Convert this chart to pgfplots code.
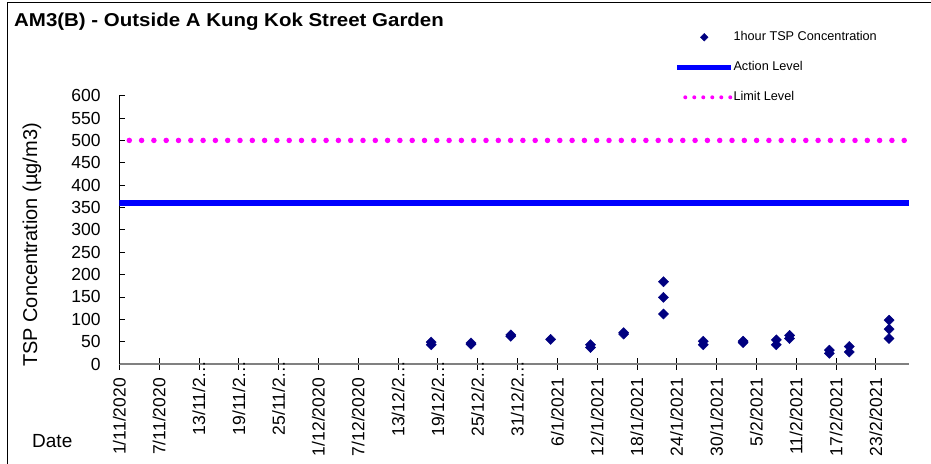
\documentclass[border=0pt]{standalone}
\usepackage{pgfplots}
\pgfplotsset{compat=1.18}
\usepackage{fontspec}
\setmainfont{Liberation Sans}

\definecolor{navy}{HTML}{000080}
\definecolor{actblue}{HTML}{0000FF}
\definecolor{limmag}{HTML}{FF00FF}

\begin{document}
\begin{tikzpicture}
\useasboundingbox (0,0) rectangle (931bp,464bp);
% chart frame (right and bottom edges fall outside the picture)
\draw[line width=1bp] (7bp,-5bp) -- (7bp,461bp) -- (940bp,461bp);
\node[anchor=base west, inner sep=0pt, font=\fontsize{18.6bp}{20bp}\selectfont\bfseries]
  at (14bp,437.3bp) {\scalebox{1.1}[1]{AM3(B) - Outside A Kung Kok Street Garden}};
\node[anchor=base west, inner sep=0pt, font=\fontsize{19bp}{21bp}\selectfont]
  at (32bp,17bp) {Date};
\begin{axis}[
  at={(119.3bp,100bp)}, anchor=south west,
  scale only axis, width=789.7bp, height=268.3bp,
  xmin=0, xmax=119, ymin=0, ymax=600,
  axis x line=bottom, axis y line=left, axis line style={-},
  x axis line style={draw=gray, line width=1.2bp},
  y axis line style={draw=black, line width=1bp},
  xtick={0,6,...,114},
  xticklabels={1/11/2020, 7/11/2020, 13/11/2\rlap{…}, 19/11/2\rlap{…}, 25/11/2\rlap{…},
    1/12/2020, 7/12/2020, 13/12/2\rlap{…}, 19/12/2\rlap{…}, 25/12/2\rlap{…}, 31/12/2\rlap{…},
    6/1/2021, 12/1/2021, 18/1/2021, 24/1/2021, 30/1/2021, 5/2/2021, 11/2/2021, 17/2/2021, 23/2/2021},
  ytick={0,50,...,600},
  /pgf/number format/assume math mode=true,
  ticklabel style={font=\fontsize{17.5bp}{19bp}\selectfont, inner sep=0pt},
  xticklabel style={yshift=-11bp, rotate=90, anchor=east},
  yticklabel style={anchor=east, xshift=-18.6bp},
  xtick align=center, ytick align=inside,
  major tick length=6bp,
  xtick style={/pgfplots/major tick length=12bp, black, line width=0.8bp},
  ytick style={black, line width=0.8bp},
  minor tick num=0,
  ylabel={TSP Concentration (µg/m3)},
  ylabel style={at={(axis description cs:-0.1042,0.4435)}, anchor=base, inner sep=0pt,
    font=\fontsize{20bp}{22bp}\selectfont},
  legend style={at={(rel axis cs:0.7037,1.24)}, anchor=north west, draw=none, fill=none,
    inner sep=0pt, outer sep=0pt, font=\fontsize{12.7bp}{14bp}\selectfont, row sep=18bp,
    nodes={inner sep=0pt, text height=9bp, text depth=3bp},
    /tikz/every odd column/.append style={column sep=0bp}},
  legend cell align=left,
  legend image code/.code={\draw[mark repeat=2,mark phase=2,#1] plot coordinates {(0bp,0bp) (27bp,0bp) (54bp,0bp)};},
]
\addlegendimage{only marks, mark=square*, mark size=2.7bp, mark options={rotate=45}, color=navy}
\addlegendimage{actblue, line width=4.5bp}
\addlegendimage{limmag, line width=4bp, line cap=round, dash pattern=on 0bp off 9bp, dash phase=1bp}
\legend{1hour TSP Concentration, Action Level, Limit Level}

\addplot[actblue, line width=5.5bp, forget plot] coordinates {(0,360) (119,360)};
\addplot[limmag, line width=5.5bp, line cap=round, dash pattern=on 0bp off 12.3bp, dash phase=2.3bp, forget plot]
  coordinates {(0,500) (119,500)};

\addplot[only marks, mark=square*, mark size=3.6bp, mark options={rotate=45}, color=navy, forget plot] coordinates {
(47,43) (47,49)
(53,44) (53,47)
(59,62) (59,65)
(65,55)
(71,37) (71,43)
(76,67) (76,70)
(82,112) (82,149) (82,184)
(88,43) (88,51)
(94,48) (94,51)
(99,43) (99,54)
(101,57) (101,64)
(107,24) (107,31)
(110,27) (110,39)
(116,57) (116,78) (116,98)
};
\end{axis}
\end{tikzpicture}
\end{document}
